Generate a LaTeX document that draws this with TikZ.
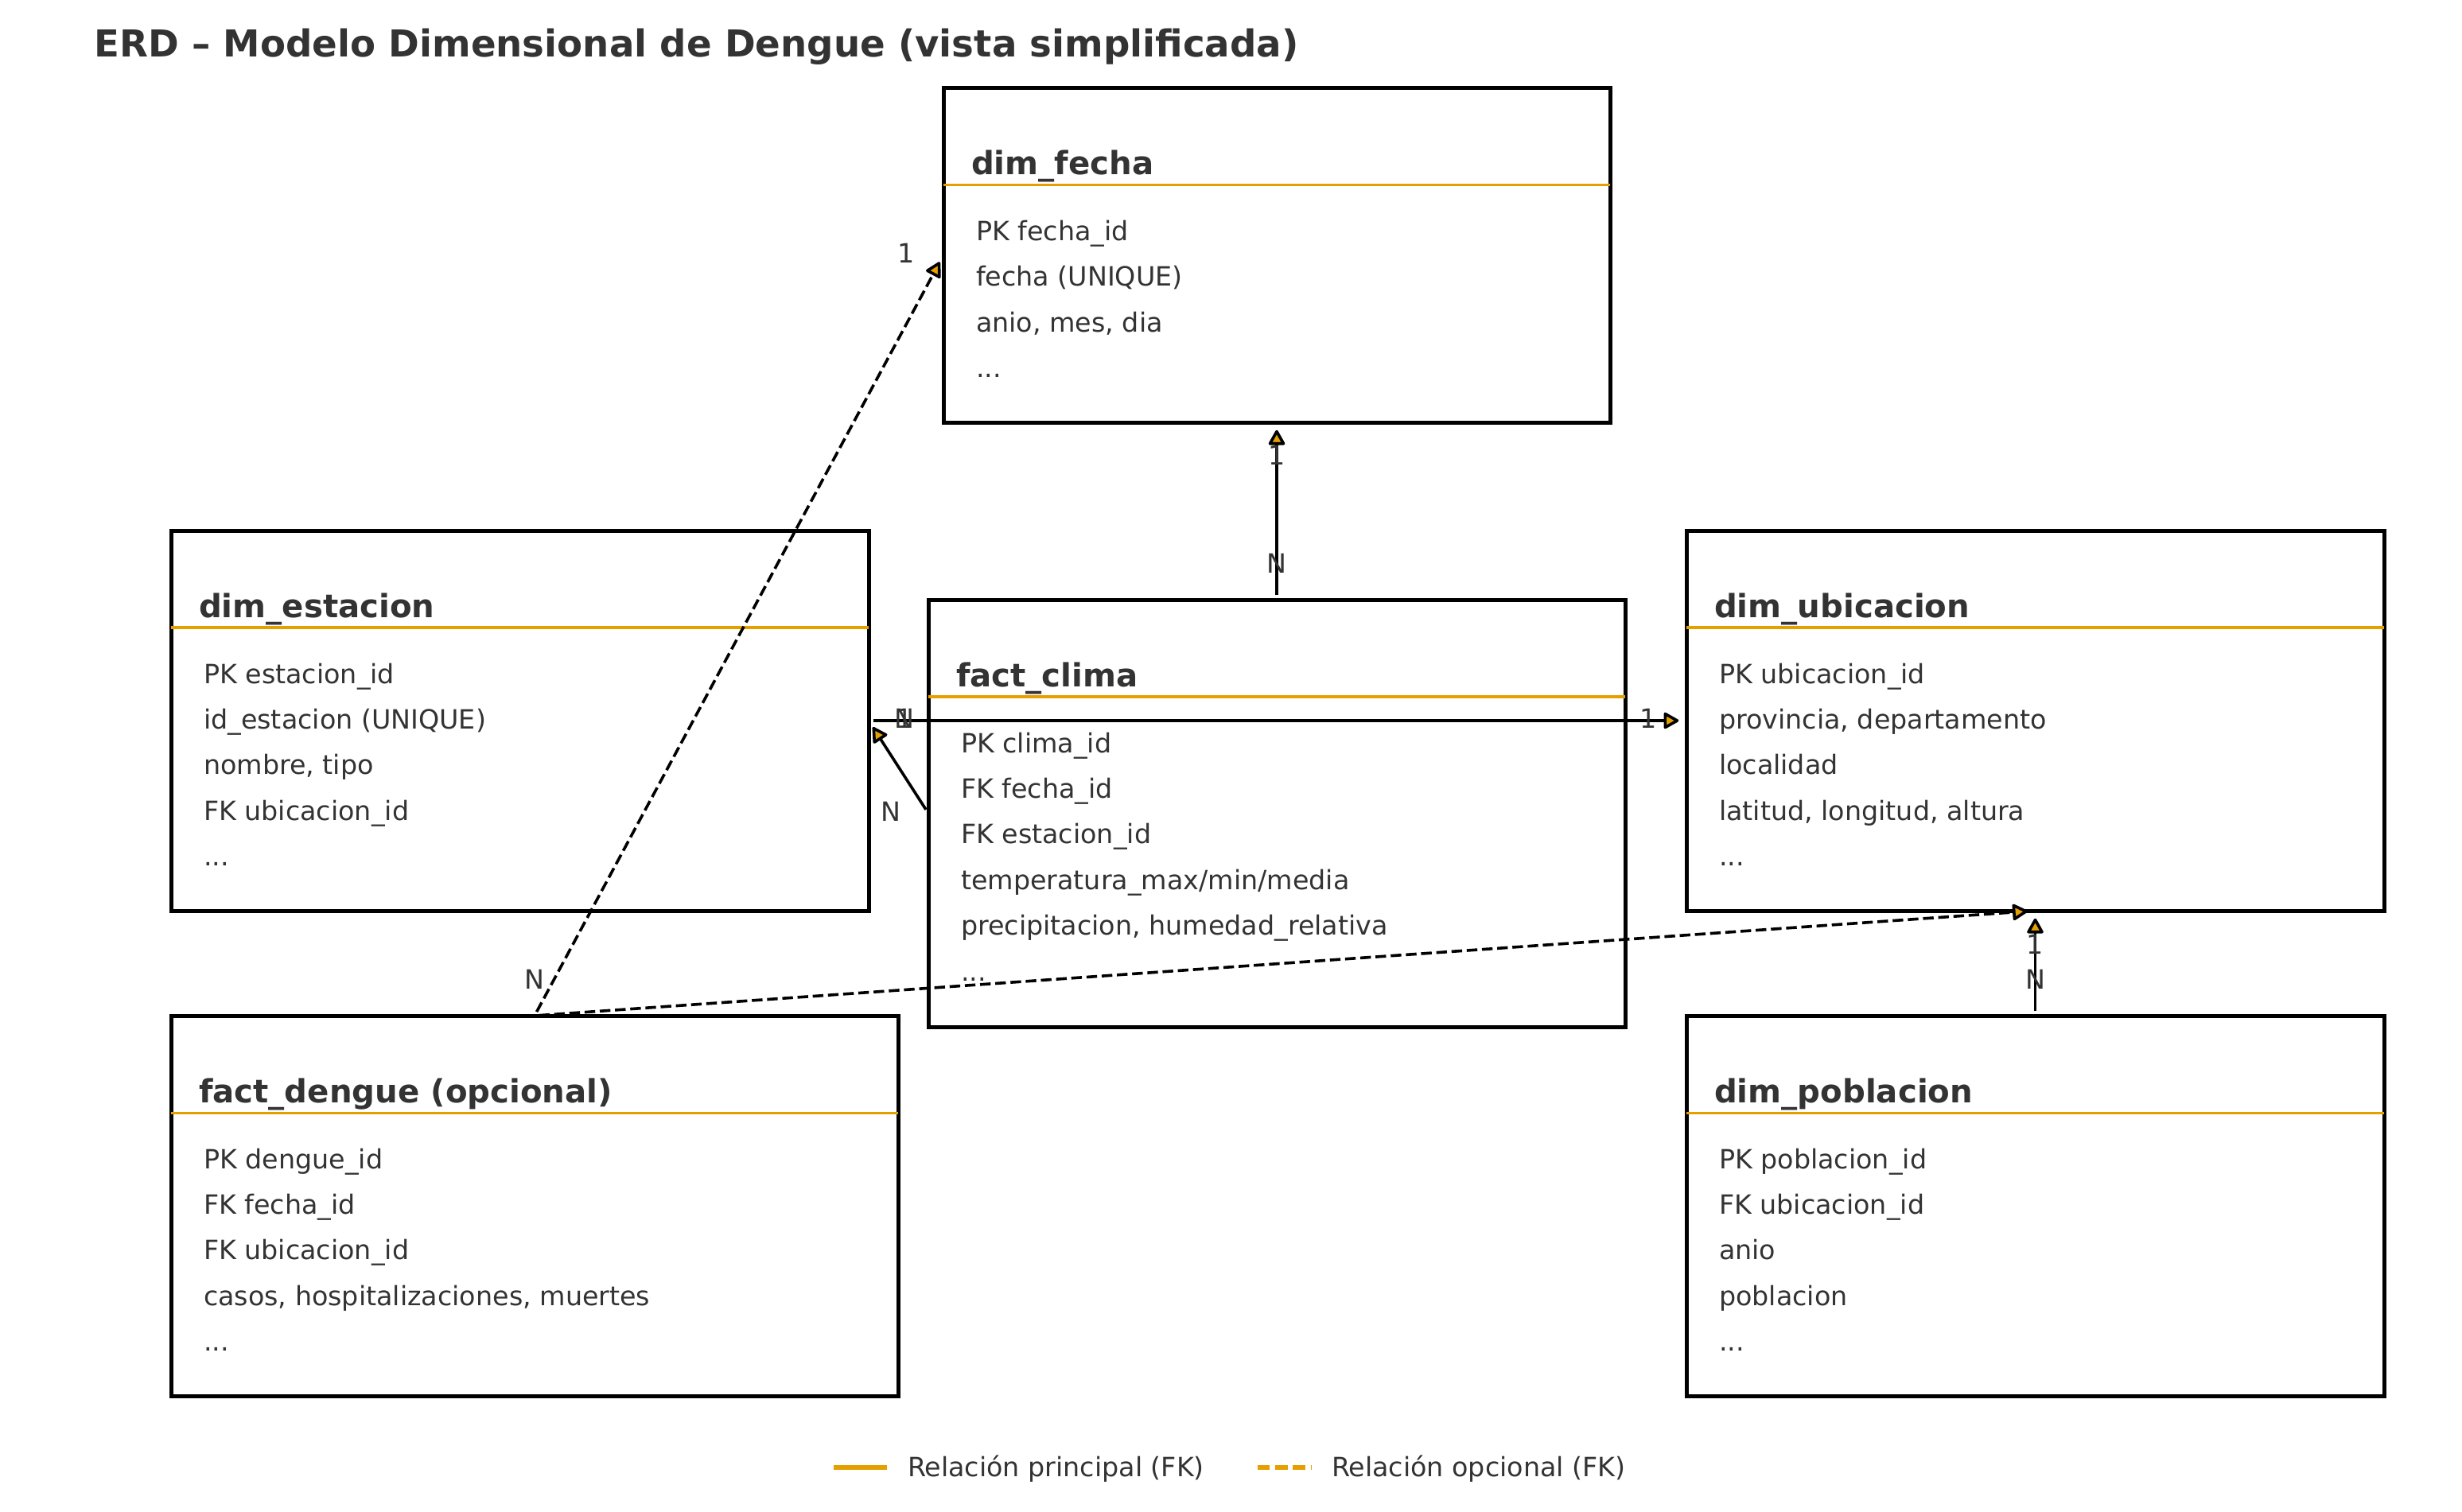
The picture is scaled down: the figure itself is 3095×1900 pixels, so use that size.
\documentclass[tikz,border=0pt]{standalone}
\usepackage{fontspec}
\setmainfont{DejaVu Sans}
\usetikzlibrary{arrows.meta}
\definecolor{ink}{HTML}{333333}
\definecolor{orangeC}{HTML}{E69F00}
\tikzset{
  ebox/.style={draw=black, line width=1.8pt, rectangle, inner sep=0pt, outer sep=0pt, fill=white},
  etitle/.style={anchor=base west, inner sep=0pt, outer sep=0pt, text=ink, font=\fontsize{14.5}{17}\selectfont\bfseries},
  attr/.style={anchor=base west, inner sep=0pt, outer sep=0pt, text=ink, font=\fontsize{12}{14}\selectfont},
  sepline/.style={draw=orangeC, line width=1.1pt},
  card/.style={inner sep=0pt, outer sep=0pt, text=ink, font=\fontsize{12}{14}\selectfont},
  rel/.style={draw=black, line width=1.3pt, shorten <=2pt, shorten >=3.5pt, -{Triangle[length=7.5pt,width=8pt,fill=orangeC,round]}},
  opt/.style={rel, dash pattern=on 4.8pt off 2.1pt},
  legline/.style={draw=orangeC, line width=2pt},
}
% #1 name, #2 x1, #3 y1, #4 x2, #5 y2, #6 title
\newcommand{\erbox}[6]{%
  \node[ebox, minimum width={(#4-#2)*0.36pt}, minimum height={(#5-#3)*0.36pt}] (#1) at ({(#2+#4)/2},{(#3+#5)/2}) {};
  \node[etitle] (#1-t) at ({#2+35},{#3+109}) {#6};
  \draw[sepline] ({#2},{#3+122}) -- ({#4},{#3+122});
}
% #1 name, #2 x1, #3 y1, #4 index, #5 text
\newcommand{\attrline}[5]{%
  \node[attr] (#1) at ({#2+41},{#3+192+57.4*#4}) {#5};
}
\begin{document}
\begin{tikzpicture}[x=0.36pt,y=-0.36pt]
\useasboundingbox (0,0) rectangle (3095,1900);

\node[anchor=base west, inner sep=0pt, text=ink, font=\fontsize{16.8}{20}\selectfont\bfseries] (title) at (118,71) {ERD – Modelo Dimensional de Dengue (vista simplificada)};

% dim_fecha
\erbox{fecha}{1186}{110.5}{2024}{531}{dim\_fecha}
\attrline{fecha-0}{1186}{110.5}{0}{PK fecha\_id}
\attrline{fecha-1}{1186}{110.5}{1}{fecha (UNIQUE)}
\attrline{fecha-2}{1186}{110.5}{2}{anio, mes, dia}
\attrline{fecha-3}{1186}{110.5}{3}{...}

% dim_estacion
\erbox{estacion}{215}{667}{1092}{1145}{dim\_estacion}
\attrline{estacion-0}{215}{667}{0}{PK estacion\_id}
\attrline{estacion-1}{215}{667}{1}{id\_estacion (UNIQUE)}
\attrline{estacion-2}{215}{667}{2}{nombre, tipo}
\attrline{estacion-3}{215}{667}{3}{FK ubicacion\_id}
\attrline{estacion-4}{215}{667}{4}{...}

% fact_clima
\erbox{clima}{1167}{754}{2043}{1291}{fact\_clima}
\attrline{clima-0}{1167}{754}{0}{PK clima\_id}
\attrline{clima-1}{1167}{754}{1}{FK fecha\_id}
\attrline{clima-2}{1167}{754}{2}{FK estacion\_id}
\attrline{clima-3}{1167}{754}{3}{temperatura\_max/min/media}
\attrline{clima-4}{1167}{754}{4}{precipitacion, humedad\_relativa}
\attrline{clima-5}{1167}{754}{5}{...}

% dim_ubicacion
\erbox{ubicacion}{2120}{667}{2997}{1145}{dim\_ubicacion}
\attrline{ubicacion-0}{2120}{667}{0}{PK ubicacion\_id}
\attrline{ubicacion-1}{2120}{667}{1}{provincia, departamento}
\attrline{ubicacion-2}{2120}{667}{2}{localidad}
\attrline{ubicacion-3}{2120}{667}{3}{latitud, longitud, altura}
\attrline{ubicacion-4}{2120}{667}{4}{...}

% fact_dengue
\erbox{dengue}{215}{1277}{1129}{1755}{fact\_dengue (opcional)}
\attrline{dengue-0}{215}{1277}{0}{PK dengue\_id}
\attrline{dengue-1}{215}{1277}{1}{FK fecha\_id}
\attrline{dengue-2}{215}{1277}{2}{FK ubicacion\_id}
\attrline{dengue-3}{215}{1277}{3}{casos, hospitalizaciones, muertes}
\attrline{dengue-4}{215}{1277}{4}{...}

% dim_poblacion
\erbox{poblacion}{2120}{1277}{2997}{1755}{dim\_poblacion}
\attrline{poblacion-0}{2120}{1277}{0}{PK poblacion\_id}
\attrline{poblacion-1}{2120}{1277}{1}{FK ubicacion\_id}
\attrline{poblacion-2}{2120}{1277}{2}{anio}
\attrline{poblacion-3}{2120}{1277}{3}{poblacion}
\attrline{poblacion-4}{2120}{1277}{4}{...}

% relations
\draw[rel] (clima.north) -- (fecha.south);
\draw[rel] (clima.west) -- (estacion.east);
\draw[rel] (estacion.east) -- (ubicacion.west);
\draw[rel] (poblacion.north) -- (ubicacion.south);
\draw[opt] (dengue.north) -- (fecha.west);
\draw[opt] (dengue.north) -- (ubicacion.south);

% cardinality labels
\node[card] (c1n) at (1605,708) {N};
\node[card] (c1o) at (1605,572) {1};
\node[card] (c2n) at (1120,1020) {N};
\node[card] (c2o) at (1137,903) {1};
\node[card] (c3n) at (1137,903) {N};
\node[card] (c3o) at (2072,903) {1};
\node[card] (c4n) at (2558.5,1231) {N};
\node[card] (c4o) at (2558.5,1187) {1};
\node[card] (c5n) at (672,1231) {N};
\node[card] (c5o) at (1139,318) {1};

% legend
\coordinate (l1a) at (1048,1845);
\coordinate (l1b) at (1115,1845);
\draw[legline] (l1a) -- (l1b);
\node[attr] (l1t) at (1141,1856) {Relación principal (FK)};
\coordinate (l2a) at (1581,1845);
\coordinate (l2b) at (1648,1845);
\draw[legline, dash pattern=on 5.5pt off 2.5pt] (l2a) -- (l2b);
\node[attr] (l2t) at (1674,1856) {Relación opcional (FK)};
\end{tikzpicture}
\end{document}
